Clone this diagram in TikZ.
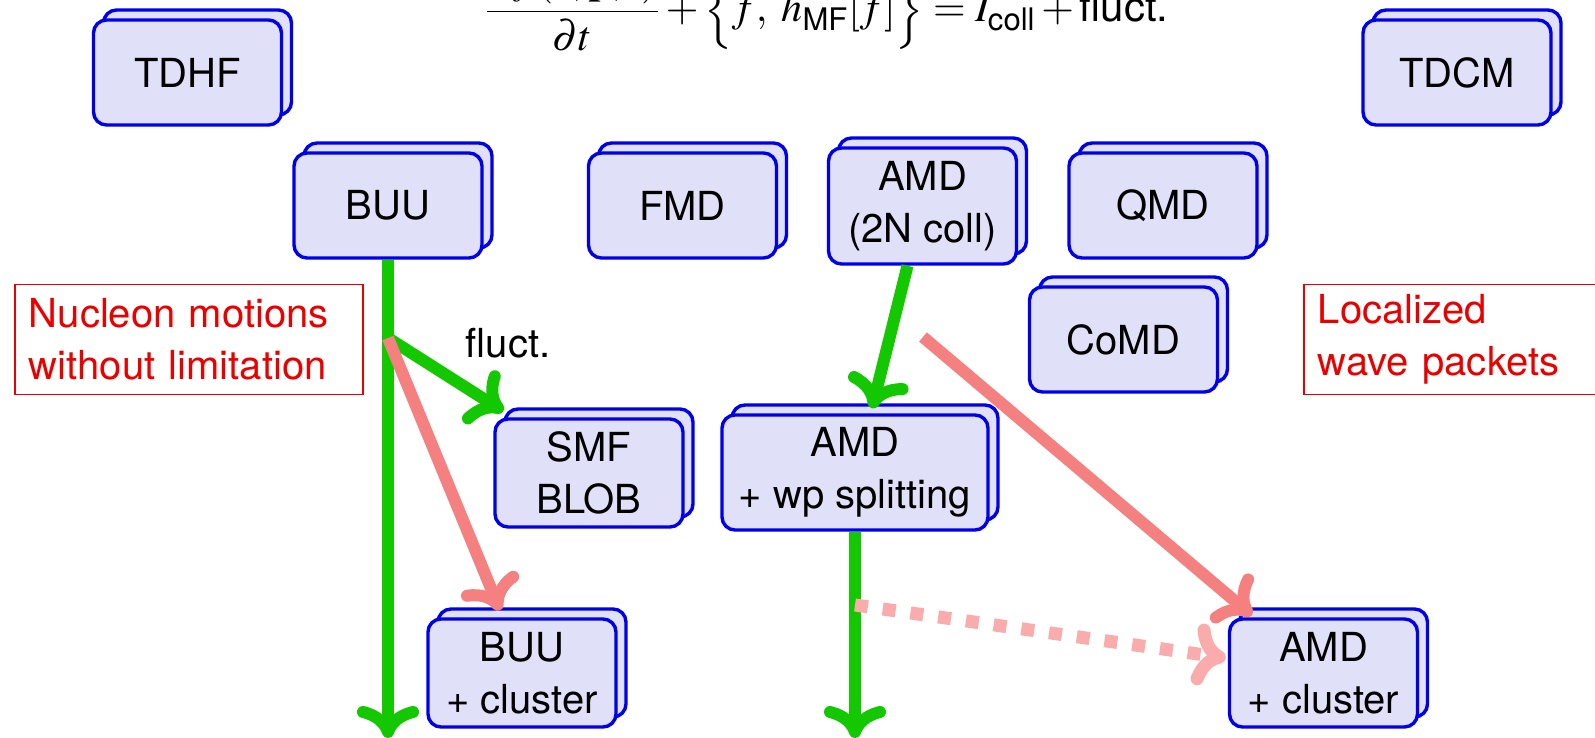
\documentclass[tikz,border=0pt]{standalone}
\usepackage{amsmath}
\usepackage{mathptmx}
\usepackage{fontspec}
\setmainfont{TeX Gyre Heros}
\usetikzlibrary{shadows,arrows.meta,calc}
\definecolor{boxfill}{RGB}{224,224,248}
\definecolor{boxblue}{RGB}{0,0,235}
\definecolor{grn}{RGB}{20,200,0}
\definecolor{salmon}{RGB}{245,128,128}
\definecolor{pinkd}{RGB}{250,172,172}
\definecolor{txtred}{RGB}{235,0,0}
\begin{document}
\begin{tikzpicture}[x=0.5pt,y=-0.5pt,
  every node/.style={font=\fontsize{20}{26}\selectfont},
  model/.style={rectangle, rounded corners=6.5pt, draw=boxblue, fill=boxfill, line width=1.7pt,
    minimum width=94pt, minimum height=52.5pt, align=center, inner sep=2pt,
    copy shadow={shadow xshift=5pt, shadow yshift=5pt, fill=boxfill, draw=boxblue, line width=1.7pt}},
  note/.style={draw=txtred, line width=0.9pt, text=txtred, align=left, anchor=west,
    inner xsep=7pt, minimum height=55pt, text width=160pt},
  tip/.style={-{To[length=16pt,width=31pt,round]}},
  garrow/.style={draw=grn, line width=6pt, tip},
  rarrow/.style={draw=salmon, line width=6pt, tip},
  darrow/.style={draw=pinkd, line width=6.5pt, dash pattern=on 6.5pt off 7.5pt, tip},
]
\useasboundingbox (0,0) rectangle (1595,738);
\fill[white] (0,0) rectangle (1595,738);

\node[anchor=base west, inner sep=0pt] (eq) at (484,22)
  {\fontsize{21}{26}\selectfont$\displaystyle\frac{\partial f(\mathbf{r},\mathbf{p},t)}{\partial t}+\Bigl\{f,\;h_{\text{MF}}[f]\Bigr\}=I_{\text{coll}}+\text{fluct.}$};

\node[model] (tdhf) at (187.5,72.5) {TDHF};
\node[model] (tdcm) at (1457,72.5) {TDCM};
\node[model] (buu) at (388,205.5) {BUU};
\node[model] (fmd) at (682.5,205.5) {FMD};
\node[model, minimum height=58pt] (amd) at (922.5,206) {AMD\\(2N coll)};
\node[model] (qmd) at (1163,205.5) {QMD};
\node[model] (comd) at (1123.5,339.5) {CoMD};
\node[model, minimum height=54pt] (smf) at (589,473) {SMF\\BLOB};
\node[model, minimum width=133pt, minimum height=57.5pt] (amdwp) at (855,472.5) {AMD\\+ wp splitting};
\node[model, minimum height=54pt] (buuc) at (522,673) {BUU\\+ cluster};
\node[model, minimum height=54pt] (amdc) at (1323.5,673) {AMD\\+ cluster};

\node[note] (nuc) at (14,339.5) {Nucleon motions\\without limitation};
\node[note] (loc) at (1303,339.5) {Localized\\wave packets};

\node (fl) at (508,343) {fluct.};

\coordinate (br) at (388,338);
\coordinate (end1) at (388,738);
\coordinate (end2) at (855,738);
\coordinate (r2) at (923,337);
\coordinate (d0) at (855,605);

\draw[garrow] (buu.south) -- (end1);
\draw[garrow] (br) -- ($(smf.north west)+(5pt,3pt)$);
\draw[rarrow] (br) -- ($(buuc.north)+(-11pt,3.5pt)$);
\draw[garrow] ($(amd.south)+(-7.5pt,0)$) -- ($(amdwp.north)+(8.5pt,2.5pt)$);
\draw[garrow] (amdwp.south) -- (end2);
\draw[rarrow] (r2) -- ($(amdc.north west)+(12pt,1pt)$);
\draw[darrow] (d0) -- ($(amdc.west)+(-1pt,7.5pt)$);
\end{tikzpicture}
\end{document}
